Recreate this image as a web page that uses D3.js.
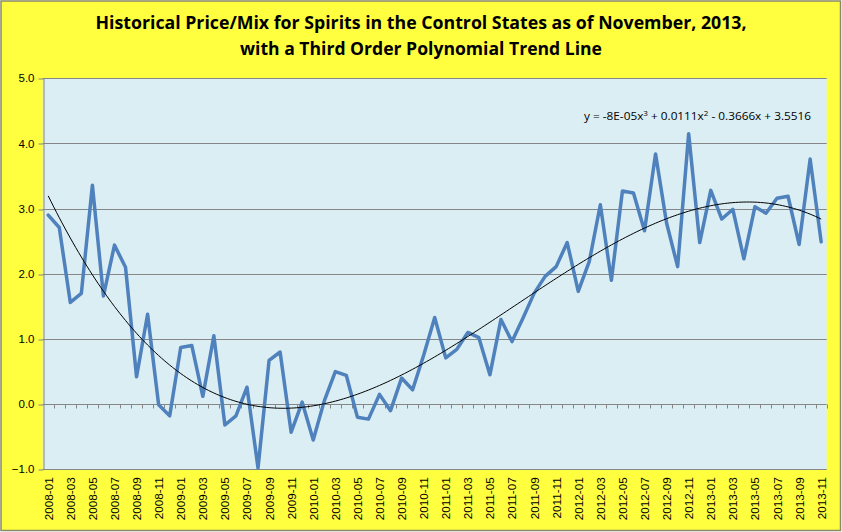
<!DOCTYPE html>
<html>
<head>
<meta charset="utf-8">
<script src="https://cdn.jsdelivr.net/npm/d3@7"></script>
<style>
  html, body { margin: 0; padding: 0; background: #ffffff; }
  svg { display: block; }
</style>
</head>
<body>
<svg id="chart" width="842" height="532"></svg>
<script>
const titleLines = [
  "Historical Price/Mix for Spirits in the Control States as of November, 2013,",
  "with a Third Order Polynomial Trend Line"
];
const equationText = ["y = -8E-05x", "3", " + 0.0111x", "2", " - 0.3666x + 3.5516"];

const categories = [
  "2008-01","2008-02","2008-03","2008-04","2008-05","2008-06","2008-07","2008-08","2008-09","2008-10","2008-11","2008-12",
  "2009-01","2009-02","2009-03","2009-04","2009-05","2009-06","2009-07","2009-08","2009-09","2009-10","2009-11","2009-12",
  "2010-01","2010-02","2010-03","2010-04","2010-05","2010-06","2010-07","2010-08","2010-09","2010-10","2010-11","2010-12",
  "2011-01","2011-02","2011-03","2011-04","2011-05","2011-06","2011-07","2011-08","2011-09","2011-10","2011-11","2011-12",
  "2012-01","2012-02","2012-03","2012-04","2012-05","2012-06","2012-07","2012-08","2012-09","2012-10","2012-11","2012-12",
  "2013-01","2013-02","2013-03","2013-04","2013-05","2013-06","2013-07","2013-08","2013-09","2013-10","2013-11"
];

const priceMix = [
  2.90, 2.71, 1.56, 1.70, 3.36, 1.66, 2.44, 2.10, 0.42, 1.38, -0.01, -0.18,
  0.87, 0.90, 0.12, 1.05, -0.32, -0.18, 0.26, -0.98, 0.67, 0.80, -0.43, 0.03,
  -0.55, 0.05, 0.50, 0.44, -0.20, -0.23, 0.15, -0.10, 0.40, 0.22, 0.75, 1.33,
  0.71, 0.84, 1.10, 1.02, 0.45, 1.30, 0.96, 1.32, 1.70, 1.96, 2.11, 2.48,
  1.73, 2.19, 3.06, 1.90, 3.27, 3.24, 2.66, 3.84, 2.78, 2.11, 4.15, 2.48,
  3.28, 2.84, 2.99, 2.23, 3.03, 2.93, 3.16, 3.19, 2.45, 3.76, 2.49
];

const yTicks = [-1, 0, 1, 2, 3, 4, 5];

// ---------- layout ----------
const W = 842, H = 532;
const plot = { left: 42.7, right: 826.7, top: 78.3, bottom: 469.3 };

const svg = d3.select("#chart");

// background + border
svg.append("rect").attr("x", 0).attr("y", 0).attr("width", W).attr("height", H).attr("fill", "#ffffff");
svg.append("rect").attr("x", 1).attr("y", 1).attr("width", W - 2.5).attr("height", H - 2.5)
  .attr("fill", "#ffff40").attr("stroke", "#8a8a6a").attr("stroke-width", 1.5);

// scales
const x = d3.scaleBand().domain(categories).range([plot.left, plot.right]).paddingInner(0).paddingOuter(0);
const cx = d => x(d) + x.bandwidth() / 2;
const y = d3.scaleLinear().domain([-1, 5]).range([plot.bottom, plot.top]);

// plot area
svg.append("rect").attr("x", plot.left).attr("y", plot.top)
  .attr("width", plot.right - plot.left).attr("height", plot.bottom - plot.top)
  .attr("fill", "#dbeef4");

// gridlines
svg.append("g").selectAll("line").data(yTicks).join("line")
  .attr("x1", plot.left).attr("x2", plot.right)
  .attr("y1", d => Math.round(y(d)) + 0.5).attr("y2", d => Math.round(y(d)) + 0.5)
  .attr("stroke", "#868686").attr("stroke-width", 1);

// y axis
const yAxis = svg.append("g").attr("transform", `translate(${Math.round(plot.left) + 0.5},0)`)
  .call(d3.axisLeft(y).tickValues(yTicks).tickFormat(d3.format(".1f")).tickSize(5).tickSizeOuter(0).tickPadding(4));
yAxis.select(".domain").attr("stroke", "#868686");
yAxis.selectAll(".tick line").attr("stroke", "#868686")
  .attr("transform", d => `translate(0,${Math.round(y(d)) + 0.5 - y(d)})`);
yAxis.selectAll("text").attr("font-family", "'Liberation Sans', Arial, sans-serif")
  .attr("font-size", "11.5px").attr("fill", "#000");

// x axis on zero line with boundary ticks
const zeroY = Math.round(y(0)) + 0.5;
const boundaries = categories.map(c => x(c)).concat([plot.right]).slice(1);
svg.append("g").selectAll("line").data(boundaries).join("line")
  .attr("x1", d => Math.round(d) + 0.5).attr("x2", d => Math.round(d) + 0.5)
  .attr("y1", zeroY).attr("y2", zeroY + 4)
  .attr("stroke", "#868686").attr("stroke-width", 1);

// x labels (every second month) at the bottom
svg.append("g").selectAll("text").data(categories.filter((c, i) => i % 2 === 0)).join("text")
  .attr("transform", d => `translate(${cx(d) + 4.5},${plot.bottom + 8}) rotate(-90)`)
  .attr("text-anchor", "end")
  .attr("font-family", "'Liberation Sans', Arial, sans-serif")
  .attr("font-size", "11.7px").attr("fill", "#000")
  .text(d => d);

// data line
const line = d3.line().x((d, i) => cx(categories[i])).y(d => y(d));
svg.append("path").datum(priceMix).attr("d", line)
  .attr("fill", "none").attr("stroke", "#4f81bd").attr("stroke-width", 3.5)
  .attr("stroke-linejoin", "round").attr("stroke-linecap", "round");

// third order polynomial least-squares fit (x = 1..n), as the spreadsheet trend line
function polyfit(xs, ys, deg) {
  const n = deg + 1;
  const A = Array.from({ length: n }, () => new Array(n + 1).fill(0));
  for (let k = 0; k < xs.length; k++) {
    for (let r = 0; r < n; r++) {
      for (let c = 0; c < n; c++) A[r][c] += Math.pow(xs[k], r + c);
      A[r][n] += ys[k] * Math.pow(xs[k], r);
    }
  }
  for (let i = 0; i < n; i++) {
    let p = i;
    for (let r = i + 1; r < n; r++) if (Math.abs(A[r][i]) > Math.abs(A[p][i])) p = r;
    [A[i], A[p]] = [A[p], A[i]];
    for (let r = 0; r < n; r++) {
      if (r === i) continue;
      const f = A[r][i] / A[i][i];
      for (let c = i; c <= n; c++) A[r][c] -= f * A[i][c];
    }
  }
  return A.map((row, i) => row[n] / row[i]);
}
const xs = priceMix.map((d, i) => i + 1);
const coef = polyfit(xs, priceMix, 3);
const trendX = d3.scaleLinear().domain([1, priceMix.length]).range([cx(categories[0]), cx(categories[categories.length - 1])]);
const samples = d3.range(1, priceMix.length + 0.001, 0.25);
svg.append("path").datum(samples)
  .attr("d", d3.line().x(t => trendX(t)).y(t => y(coef[0] + coef[1] * t + coef[2] * t * t + coef[3] * t * t * t)))
  .attr("fill", "none").attr("stroke", "#000").attr("stroke-width", 1);

// equation label
const eq = svg.append("text").attr("x", 584).attr("y", 119.5)
  .attr("font-family", "'Open Sans', 'Noto Sans', sans-serif").attr("font-size", "11px").attr("fill", "#000");
equationText.forEach((s, i) => {
  const ts = eq.append("tspan").text(s);
  if (i % 2 === 1) ts.attr("dy", -4).attr("font-size", "7.5px");
  else if (i > 0) ts.attr("dy", 4);
});
{
  const len = eq.node().getComputedTextLength();
  const target = 227;
  eq.attr("textLength", target).attr("lengthAdjust", "spacingAndGlyphs");
  if (Math.abs(len - target) < 0.5) eq.attr("textLength", null);
}

// title
const title = svg.append("g");
titleLines.forEach((t, i) => {
  title.append("text").attr("x", 421).attr("y", 29 + i * 26)
    .attr("text-anchor", "middle")
    .attr("font-family", "'Open Sans', 'Noto Sans', sans-serif")
    .attr("font-weight", "bold").attr("font-size", "17px").attr("fill", "#000")
    .attr("textLength", i === 0 ? 651 : 362).attr("lengthAdjust", "spacingAndGlyphs")
    .text(t);
});
</script>
</body>
</html>
